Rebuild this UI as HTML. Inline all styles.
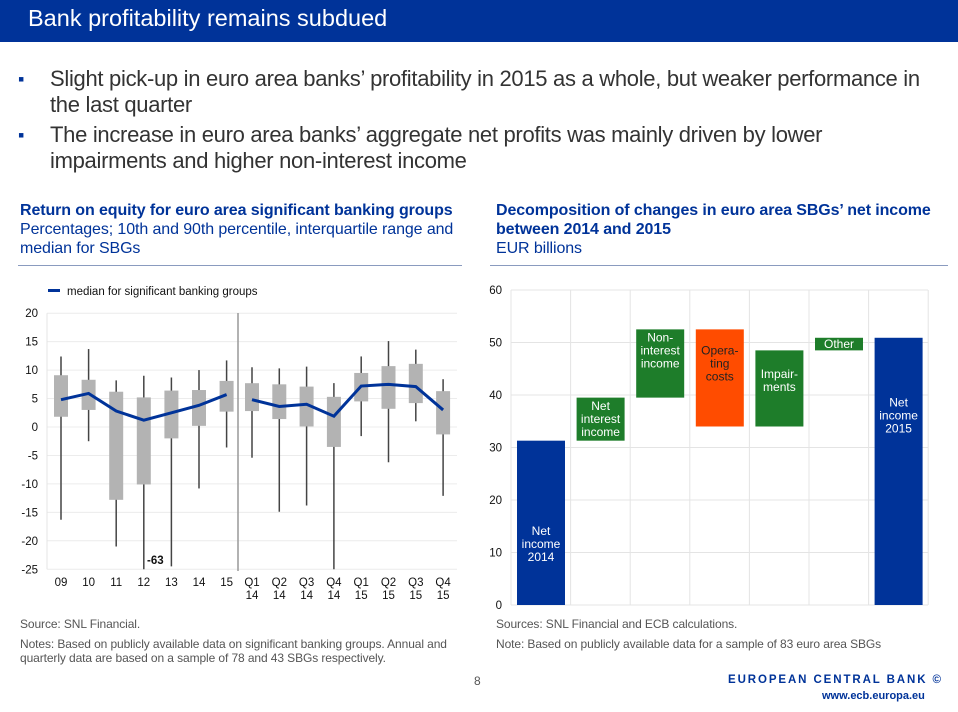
<!DOCTYPE html>
<html><head><meta charset="utf-8"><style>
body{margin:0;width:958px;height:712px;position:relative;background:#fff;font-family:"Liberation Sans",Arial,sans-serif;overflow:hidden}
.a{position:absolute;white-space:nowrap}
.bul{color:#333;font-size:22px;line-height:26px;letter-spacing:-0.3px}
.mk{color:#003399;font-size:18px}
.ct{color:#003399;font-size:16px;line-height:19px;letter-spacing:-0.1px}
.fn{color:#555;font-size:12px;line-height:14px;letter-spacing:-0.1px}
svg text{font-family:"Liberation Sans",Arial,sans-serif}
</style></head><body>
<div class="a" style="left:0;top:0;width:958px;height:42px;background:#003399"></div>
<div class="a" style="left:28px;top:5px;color:#fff;font-size:23.5px">Bank profitability remains subdued</div>
<div class="a bul mk" style="left:18px;top:66px">▪</div>
<div class="a bul" style="left:50px;top:66px">Slight pick-up in euro area banks’ profitability in 2015 as a whole, but weaker performance in<br>the last quarter</div>
<div class="a bul mk" style="left:18px;top:122px">▪</div>
<div class="a bul" style="left:50px;top:122px">The increase in euro area banks’ aggregate net profits was mainly driven by lower<br>impairments and higher non-interest income</div>
<div class="a ct" style="left:20px;top:201px"><b>Return on equity for euro area significant banking groups</b><br>Percentages; 10th and 90th percentile, interquartile range and<br>median for SBGs</div>
<div class="a ct" style="left:496px;top:201px"><b>Decomposition of changes in euro area SBGs’ net income<br>between 2014 and 2015</b><br>EUR billions</div>
<div class="a" style="left:18px;top:265px;width:444px;height:1px;background:#8a9bbf"></div>
<div class="a" style="left:490px;top:265px;width:458px;height:1px;background:#8a9bbf"></div>
<div class="a fn" style="left:20px;top:617px">Source: SNL Financial.</div>
<div class="a fn" style="left:20px;top:637px">Notes: Based on publicly available data on significant banking groups. Annual and<br>quarterly data are based on a sample of 78 and 43 SBGs respectively.</div>
<div class="a fn" style="left:496px;top:617px">Sources: SNL Financial and ECB calculations.</div>
<div class="a fn" style="left:496px;top:637px">Note: Based on publicly available data for a sample of 83 euro area SBGs</div>
<div class="a fn" style="left:474px;top:674px;font-size:12px">8</div>
<div class="a" style="left:728px;top:674px;color:#003399;font-size:11.5px;font-weight:bold;letter-spacing:1.9px">EUROPEAN CENTRAL BANK ©</div>
<div class="a" style="left:822px;top:690px;color:#003399;font-size:11px;font-weight:bold">www.ecb.europa.eu</div>

<svg class="a" style="left:0;top:0" width="958" height="712" id="c1"></svg>
<svg class="a" style="left:0;top:0" width="958" height="712" id="c2"></svg>

<script>
const NS='http://www.w3.org/2000/svg';
function mk(p,t,at){const e=document.createElementNS(NS,t);for(const k in at)e.setAttribute(k,at[k]);p.appendChild(e);return e;}
// Chart 1 data
const cats1=['09','10','11','12','13','14','15','Q1\n14','Q2\n14','Q3\n14','Q4\n14','Q1\n15','Q2\n15','Q3\n15','Q4\n15'];
const p90=[12.4,13.7,8.2,9,8.7,10,11.7,10.5,10.3,10.6,7.7,12.4,15.1,13.6,8.4];
const p10=[-16.3,-2.5,-21,-63,-24.5,-10.8,-3.6,-5.4,-14.9,-13.8,-63,-1.6,-6.2,1,-12.1];
const q75=[9.1,8.3,6.2,5.2,6.4,6.5,8.1,7.7,7.5,7.1,5.3,9.5,10.7,11.1,6.3];
const q25=[1.8,3,-12.8,-10.1,-2,0.2,2.7,2.8,1.4,0.1,-3.5,4.5,3.2,4.2,-1.3];
const med=[4.8,5.9,2.8,1.2,2.5,3.8,5.7,4.8,3.6,4,1.9,7.2,7.5,7.1,3];
const ticks1=[20,15,10,5,0,-5,-10,-15,-20,-25];
const c1=document.getElementById('c1');
const Y1=v=>427-Math.max(v,-25)*5.69;
const X1=i=>i<7?61+i*27.6:252+(i-7)*27.3;
ticks1.forEach(t=>{
 const g=mk(c1,'line',{x1:47,x2:457,y1:Y1(t),y2:Y1(t),stroke:'#ececec','stroke-width':1});
 
 const tx=mk(c1,'text',{x:38,y:Y1(t)+4,'text-anchor':'end','font-size':11.5,fill:'#111'});tx.textContent=t;
 
});
mk(c1,'line',{x1:47,x2:47,y1:Y1(20),y2:Y1(-25),stroke:'#e4e4e4'});
const sep=mk(c1,'line',{x1:238,x2:238,y1:313,y2:571,stroke:'#999','stroke-width':1.5});

cats1.forEach((c,i)=>{
 const x=X1(i);
 const w=mk(c1,'line',{x1:x,x2:x,y1:Y1(p90[i]),y2:Y1(p10[i]),stroke:'#444','stroke-width':1.5});
 
 const b=mk(c1,'rect',{x:x-7,y:Y1(q75[i]),width:14,height:Y1(q25[i])-Y1(q75[i]),fill:'#b3b3b3'});
 
 c.split('\n').forEach((s,k)=>{const t=mk(c1,'text',{x:x,y:586+k*13,'text-anchor':'middle','font-size':11.5,fill:'#111'});t.textContent=s;
  });
});
const lab=mk(c1,'text',{x:147,y:564,'font-size':11.5,'font-weight':'bold',fill:'#111'});lab.textContent='-63';

[[0,7],[7,15]].forEach(([a,b])=>{
 const pts=med.slice(a,b).map((v,k)=>X1(a+k)+','+Y1(v)).join(' ');
 const l=mk(c1,'polyline',{points:pts,fill:'none',stroke:'#003399','stroke-width':3});
 
});
const lg=mk(c1,'rect',{x:48,y:289,width:12,height:3,fill:'#003399'});

const lt=mk(c1,'text',{x:67,y:295,'font-size':11.5,fill:'#111'});lt.textContent='median for significant banking groups';


// Chart 2 data
const cats2=['Net|income|2014','Net|interest|income','Non-|interest|income','Opera-|ting|costs','Impair-|ments','Other','Net|income|2015'];
const lows=[0,31.3,39.5,34,34,48.5,0];
const highs=[31.3,39.5,52.5,52.5,48.5,50.9,50.9];
const colors=['#003399','#1e7d2a','#1e7d2a','#ff4c00','#1e7d2a','#1e7d2a','#003399'];
const ticks2=[0,10,20,30,40,50,60];
const c2=document.getElementById('c2');
const Y2=v=>605-v*5.25;
const X2=i=>511+i*59.6;
ticks2.forEach(t=>{
 const g=mk(c2,'line',{x1:511,x2:928,y1:Y2(t),y2:Y2(t),stroke:'#e4e4e4'});
 
 const tx=mk(c2,'text',{x:502,y:Y2(t)+4,'text-anchor':'end','font-size':11.5,fill:'#111'});tx.textContent=t;
 
});
for(let i=0;i<=7;i++){mk(c2,'line',{x1:X2(i),x2:X2(i),y1:Y2(60),y2:Y2(0),stroke:'#e4e4e4'});}
cats2.forEach((c,i)=>{
 const x=X2(i)+6;
 const r=mk(c2,'rect',{x:x,y:Y2(highs[i]),width:48,height:Y2(lows[i])-Y2(highs[i]),fill:colors[i]});
 
 
 const lines=c.split('|');
 const cy=i==0?Y2(highs[i]*0.37):i==6?Y2(highs[i]*0.71):i==1?(Y2(highs[i])+Y2(lows[i]))/2:i==5?(Y2(highs[i])+Y2(lows[i]))/2:Y2(highs[i])+(i==3?34:i==4?30:21);
 lines.forEach((s,k)=>{
  const t=mk(c2,'text',{x:x+24,y:cy+(k-(lines.length-1)/2)*13+4,'text-anchor':'middle','font-size':12,fill:i==3?'#222':'#fff'});
  t.textContent=s;
  
 });
});
</script>
</body></html>
